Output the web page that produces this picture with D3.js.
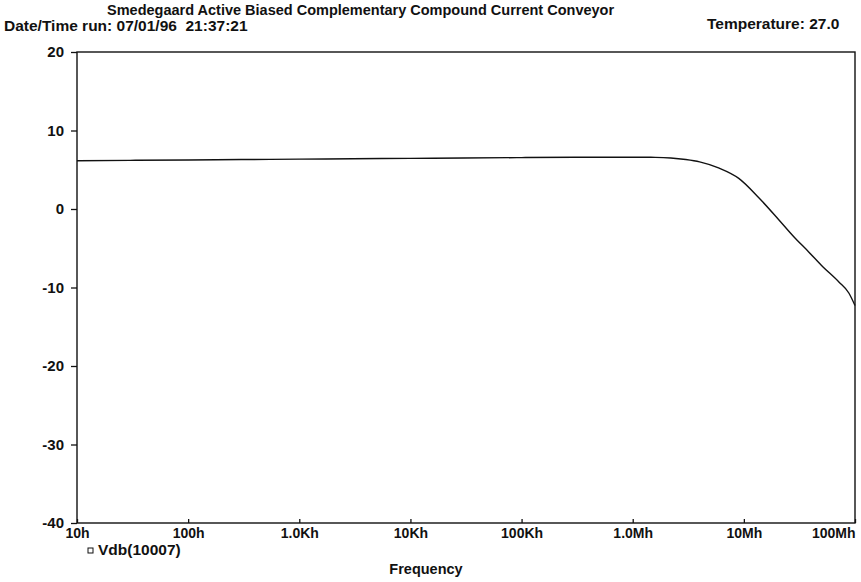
<!DOCTYPE html>
<html>
<head>
<meta charset="utf-8">
<script src="https://cdn.jsdelivr.net/npm/d3@7/dist/d3.min.js"></script>
<style>
  html, body { margin: 0; padding: 0; background: #fff; }
  svg { display: block; }
  text { font-family: "Liberation Sans", Arial, sans-serif; fill: #111; white-space: pre; }
</style>
</head>
<body>
<svg id="chart" width="861" height="582"></svg>
<script>
// Frequency sweep (Hz) and magnitude of V(10007) in dB
const freqHz = [10, 30, 100, 300, 1e3, 3e3, 1e4, 3e4, 1e5, 3e5, 1e6, 1.6e6, 2.2e6, 3e6, 4e6,
                6e6, 9e6, 13.7e6, 20.7e6, 28e6, 38.5e6, 50e6, 71.6e6, 88e6, 100e6];
const vdb    = [6.15, 6.2, 6.25, 6.3, 6.35, 6.4, 6.45, 6.5, 6.55, 6.6, 6.6, 6.58, 6.5, 6.3, 6.0,
                5.2, 3.9, 1.4, -1.4, -3.5, -5.5, -7.2, -9.3, -10.7, -12.3];

const xTickValues = [10, 100, 1e3, 1e4, 1e5, 1e6, 1e7, 1e8];
const xTickLabels = ["10h", "100h", "1.0Kh", "10Kh", "100Kh", "1.0Mh", "10Mh", "100Mh"];
const yTickValues = [20, 10, 0, -10, -20, -30, -40];

const titleText = "Smedegaard Active Biased Complementary Compound Current Conveyor";
const dateText = "Date/Time run: 07/01/96  21:37:21";
const tempText = "Temperature: 27.0";
const legendText = "Vdb(10007)";
const xTitle = "Frequency";

const svg = d3.select("#chart");
const plot = { left: 77, right: 855, top: 52, bottom: 523 };

const x = d3.scaleLog().domain([10, 1e8]).range([plot.left, plot.right]);
const y = d3.scaleLinear().domain([-40, 20]).range([plot.bottom, plot.top]);

const ink = "#111";

// Frame
svg.append("rect")
  .attr("x", plot.left).attr("y", plot.top)
  .attr("width", plot.right - plot.left).attr("height", plot.bottom - plot.top)
  .attr("fill", "none").attr("stroke", ink).attr("stroke-width", 1.4);

// Bottom axis: ticks point into the plot; the last label is kept inside the page
const xAxis = d3.axisBottom(x)
  .tickValues(xTickValues)
  .tickFormat((d, i) => xTickLabels[i])
  .tickSizeInner(-4).tickSizeOuter(0).tickPadding(10);
const gx = svg.append("g").attr("transform", `translate(0,${plot.bottom})`).call(xAxis);
gx.select(".domain").remove();
gx.selectAll("line").attr("stroke", ink).attr("stroke-width", 1.3);
gx.selectAll("text").attr("font-size", 14).attr("font-weight", "bold").attr("fill", ink)
  .attr("dy", "0.71em").attr("y", 5);
gx.selectAll(".tick").filter(d => d === 1e8).select("text")
  .attr("text-anchor", "end").attr("x", 0);

// Left axis: ticks point outward, plain hyphen for negatives
const yAxis = d3.axisLeft(y).tickValues(yTickValues).tickFormat(d => String(d))
  .tickSizeInner(6).tickSizeOuter(0).tickPadding(7);
const gy = svg.append("g").attr("transform", `translate(${plot.left},0)`).call(yAxis);
gy.select(".domain").remove();
gy.selectAll("line").attr("stroke", ink).attr("stroke-width", 1.3);
gy.selectAll("text").attr("font-size", 15).attr("font-weight", "bold").attr("fill", ink);

// Trace
const line = d3.line()
  .x((d, i) => x(freqHz[i]))
  .y(d => y(d))
  .curve(d3.curveMonotoneX);
svg.append("path")
  .datum(vdb)
  .attr("d", line)
  .attr("fill", "none")
  .attr("stroke", ink)
  .attr("stroke-width", 1.4);

// Header texts
svg.append("text").attr("x", 107).attr("y", 15).attr("font-size", 14.5).attr("font-weight", "bold")
  .text(titleText);
svg.append("text").attr("x", 4).attr("y", 31).attr("font-size", 15.5).attr("font-weight", "bold")
  .text(dateText);
svg.append("text").attr("x", 707).attr("y", 29).attr("font-size", 15.5).attr("font-weight", "bold")
  .text(tempText);

// Legend
svg.append("rect").attr("x", 88).attr("y", 548).attr("width", 5).attr("height", 5)
  .attr("fill", "none").attr("stroke", ink).attr("stroke-width", 1);
svg.append("text").attr("x", 98).attr("y", 555).attr("font-size", 15.5).attr("font-weight", "bold")
  .text(legendText);

// X-axis title
svg.append("text").attr("x", 426).attr("y", 574).attr("text-anchor", "middle")
  .attr("font-size", 14.5).attr("font-weight", "bold").text(xTitle);
</script>
</body>
</html>
